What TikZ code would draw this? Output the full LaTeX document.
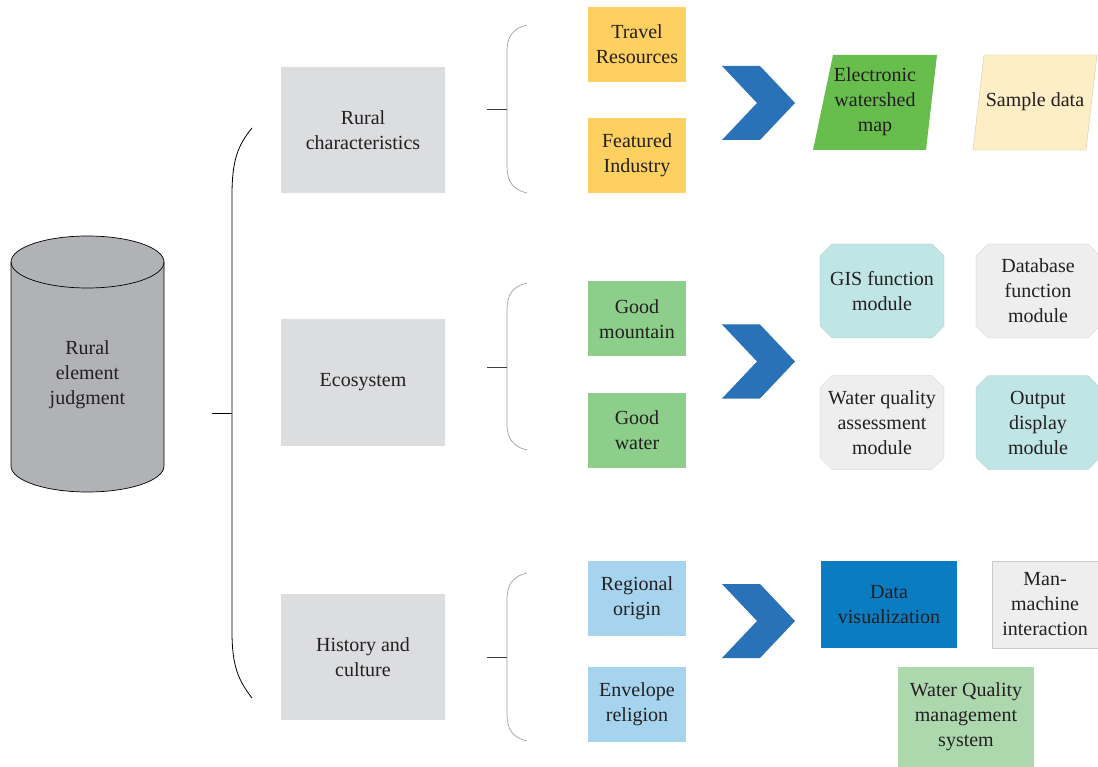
\documentclass[tikz,border=0pt]{standalone}
\usepackage{fontspec}
\setmainfont{Liberation Serif}
\usetikzlibrary{shapes.misc}
\definecolor{boxgray}{HTML}{DCDDDF}
\definecolor{cylgray}{HTML}{B1B2B5}
\definecolor{yel}{HTML}{FDD060}
\definecolor{grn}{HTML}{8DCF8A}
\definecolor{lblue}{HTML}{A6D4EE}
\definecolor{chev}{HTML}{2A72B8}
\definecolor{mapgreen}{HTML}{68BE4C}
\definecolor{sample}{HTML}{FDEEC5}
\definecolor{teal}{HTML}{BFE5E4}
\definecolor{lgray}{HTML}{EEEEEE}
\definecolor{dvis}{HTML}{0A7CC1}
\definecolor{wqgreen}{HTML}{ADD8AE}
\definecolor{txt}{HTML}{231F20}
\definecolor{bracegray}{HTML}{A0A0A0}
\begin{document}
\begin{tikzpicture}[x=1pt,y=-1pt,
  every node/.style={text=txt,font=\fontsize{20}{25}\selectfont,align=center,inner sep=0pt},
  cat/.style={fill=boxgray,minimum width=164pt,minimum height=126pt},
  item/.style={fill=#1,minimum width=98pt,minimum height=75pt},
  modbox/.style={chamfered rectangle,chamfered rectangle xsep=6pt,chamfered rectangle ysep=6pt,fill=#1,draw=#1!85!black,line width=0.2pt,minimum width=124pt,minimum height=94pt},
  plain/.style={fill=#1,minimum width=136pt,minimum height=87pt},
  bigbrace/.style={draw=black,line width=0.8pt},
  smallbrace/.style={draw=bracegray,line width=0.7pt},
  chevron/.style={fill=chev}
]
\useasboundingbox (0,0) rectangle (1098,767);
% cylinder
\fill[cylgray] (11,262) -- (11,466) arc[start angle=180,end angle=0,x radius=76.5,y radius=26] -- (164,262) arc[start angle=0,end angle=-180,x radius=76.5,y radius=26] -- cycle;
\draw[line width=0.7pt] (11,262) -- (11,466) arc[start angle=180,end angle=0,x radius=76.5,y radius=26] -- (164,262);
\draw[line width=0.7pt] (87.5,262) ellipse[x radius=76.5,y radius=26];
\node (root) at (87.5,375) {Rural\\element\\judgment};
% big brace
\draw[bigbrace] (252,128) .. controls (238,145) and (232,160) .. (232,195) -- (232,632) .. controls (232,665) and (238,680) .. (252,698);
\coordinate (bt) at (212,413);
\coordinate (bb) at (232,413);
\draw[bigbrace] (bt) -- (bb);
% categories
\node[cat] (c1) at (363,130) {Rural\\characteristics};
\node[cat] (c2) at (363,382.5) {Ecosystem};
\node[cat] (c3) at (363,657) {History and\\culture};
% small braces
\foreach \t/\b/\m/\n in {25/193/109/1,283/450/367/2,573/741/657/3}{
  \draw[smallbrace] (527,\t) .. controls (513,\t+3) and (507,\t+12) .. (507,\t+26) -- (507,\b-26) .. controls (507,\b-12) and (513,\b-3) .. (527,\b);
  \coordinate (s\n a) at (487,\m);
  \coordinate (s\n b) at (507,\m);
  \draw[draw=black!75,line width=0.7pt] (s\n a) -- (s\n b);
}
% items
\node[item=yel] (i1) at (637,44.5) {Travel\\Resources};
\node[item=yel] (i2) at (637,155.5) {Featured\\Industry};
\node[item=grn] (i3) at (637,319) {Good\\mountain};
\node[item=grn] (i4) at (637,430) {Good\\water};
\node[item=lblue] (i5) at (637,598) {Regional\\origin};
\node[item=lblue] (i6) at (637,704) {Envelope\\religion};
% chevrons
\foreach \c in {103,361.5,621}{
  \fill[chevron] (722,\c-37) -- (760,\c-37) -- (795,\c) -- (760,\c+37) -- (722,\c+37) -- (757,\c) -- cycle;
}
% parallelograms
\fill[mapgreen] (833,55) -- (937,55) -- (926,150) -- (813,150) -- cycle;
\node (p1) at (875,102) {Electronic\\watershed\\map};
\fill[sample] (984,55) -- (1097,55) -- (1086,150) -- (973,150) -- cycle;
\draw[sample!80!black,line width=0.3pt] (984,55) -- (1097,55) -- (1086,150) -- (973,150) -- cycle;
\node (p2) at (1035,102) {Sample data};
% modules
\node[modbox=teal] (m1) at (882,291) {GIS function\\module};
\node[modbox=lgray] (m2) at (1038,291) {Database\\function\\module};
\node[modbox=lgray] (m3) at (882,422.5) {Water quality\\assessment\\module};
\node[modbox=teal] (m4) at (1038,422.5) {Output\\display\\module};
% row 3 results
\node[plain=dvis] (r1) at (889,604.5) {Data\\visualization};
\node[fill=lgray,draw=lgray!85!black,line width=0.2pt,minimum width=106pt,minimum height=87pt] (r2) at (1045,604.5) {Man-\\machine\\interaction};
\node[fill=wqgreen,minimum width=136pt,minimum height=100pt] (r3) at (966,717) {Water Quality\\management\\system};
\end{tikzpicture}
\end{document}
